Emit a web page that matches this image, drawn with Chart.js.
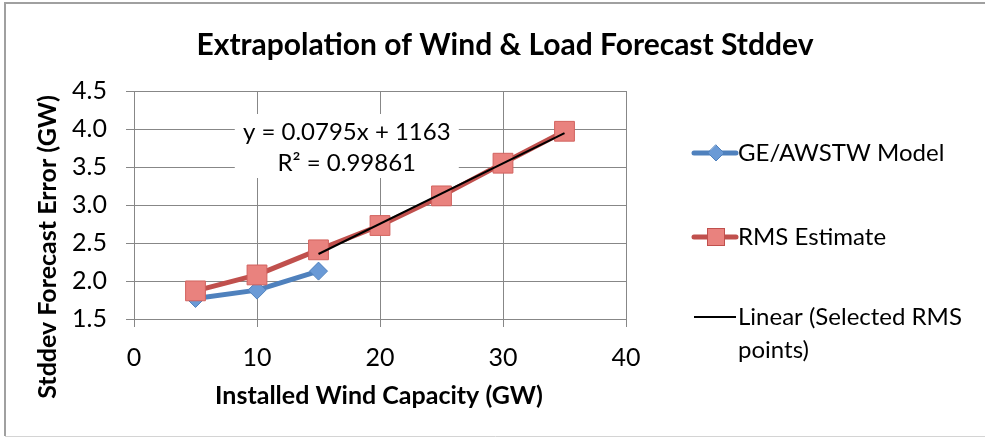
<!DOCTYPE html>
<html>
<head>
<meta charset="utf-8">
<title>Extrapolation of Wind &amp; Load Forecast Stddev</title>
<script src="https://cdn.jsdelivr.net/npm/chart.js@4.4.1/dist/chart.umd.min.js"></script>
<style>
  html, body { margin: 0; padding: 0; background: #ffffff; }
  #wrap { position: relative; width: 985px; height: 437px; }
</style>
</head>
<body>
<div id="wrap"><canvas id="chart" width="985" height="437"></canvas></div>
<script>
// Installed wind capacity (GW) and forecast error standard deviation (GW)
const capacityGW  = [5, 10, 15, 20, 25, 30, 35];
const geModel     = [1.77, 1.88, 2.13];              // GE/AWSTW study, first three capacities
const rmsEstimate = [1.87, 2.08, 2.41, 2.73, 3.12, 3.55, 3.97];

// Linear trendline fitted to the selected RMS points (equation in MW)
const trendSlope     = 0.0795;
const trendIntercept = 1163;
const trendR2        = 0.99861;
const trendFrom      = 15;
const trendTo        = 35;

const xTickValues = [0, 10, 20, 30, 40];
const yTickValues = [1.5, 2.0, 2.5, 3.0, 3.5, 4.0, 4.5];
const yTickLabels = ['1.5', '2.0', '2.5', '3.0', '3.5', '4.0', '4.5'];

const titleText  = 'Extrapolation of Wind & Load Forecast Stddev';
const xTitleText = 'Installed Wind Capacity (GW)';
const yTitleText = 'Stddev Forecast Error (GW)';
const seriesNames = ['GE/AWSTW Model', 'RMS Estimate', ['Linear (Selected RMS', 'points)']];

const FONT = "Lato, 'Open Sans', 'DejaVu Sans', sans-serif";
const BLUE = '#4F81BD';
const RED = '#C0504D';
const RED_FILL = '#E9827E';
const BLUE_FILL = '#6A9AD6';
const GRID = '#878787';

const trendY = x => (trendSlope * x * 1000 + trendIntercept) / 1000;

const toPoints = (xs, ys) => ys.map((y, i) => ({ x: xs[i], y }));

const decor = {
  id: 'decor',
  beforeDraw(chart) {
    const { ctx } = chart;
    ctx.save();
    ctx.fillStyle = '#ffffff';
    ctx.fillRect(0, 0, chart.width, chart.height);
    // outer frame
    ctx.strokeStyle = '#a0a0a0';
    ctx.lineWidth = 2;
    ctx.beginPath();
    ctx.moveTo(995, 3);
    ctx.lineTo(5, 3);
    ctx.lineTo(5, 436);
    ctx.stroke();
    ctx.strokeStyle = '#d4d4d4';
    ctx.lineWidth = 1;
    ctx.beginPath();
    ctx.moveTo(5, 436.5);
    ctx.lineTo(995, 436.5);
    ctx.stroke();
    ctx.restore();
  },
  afterDraw(chart) {
    const { ctx, chartArea: a, scales } = chart;
    ctx.save();
    ctx.fillStyle = '#000000';
    ctx.textAlign = 'center';
    ctx.textBaseline = 'middle';

    // chart title
    ctx.font = `bold 30px ${FONT}`;
    ctx.fillText(titleText, 505, 45);

    // axis titles
    ctx.font = `bold 25px ${FONT}`;
    ctx.fillText(xTitleText, (a.left + a.right) / 2 - 1, 396);
    ctx.save();
    ctx.translate(48, 247);
    ctx.rotate(-Math.PI / 2);
    ctx.fillText(yTitleText, 0, 0);
    ctx.restore();

    // trendline equation label on a white box
    const ex = scales.x.getPixelForValue(17.3);
    const ey = scales.y.getPixelForValue(3.75);
    ctx.fillStyle = '#ffffff';
    ctx.fillRect(ex - 112, ey - 34, 224, 64);
    ctx.fillStyle = '#000000';
    ctx.font = `24px ${FONT}`;
    ctx.fillText(`y = ${trendSlope}x + ${trendIntercept}`, ex, ey - 16);
    ctx.fillText(`R² = ${trendR2}`, ex, ey + 15);

    // legend
    const lx0 = 694, lx1 = 736, tx = 738;
    ctx.textAlign = 'left';
    ctx.font = `24px ${FONT}`;
    ctx.lineCap = 'round';

    let y = 153;
    ctx.strokeStyle = BLUE; ctx.lineWidth = 5;
    ctx.beginPath(); ctx.moveTo(lx0, y); ctx.lineTo(lx1, y); ctx.stroke();
    ctx.fillStyle = BLUE_FILL; ctx.strokeStyle = BLUE; ctx.lineWidth = 1;
    ctx.beginPath();
    ctx.moveTo(716, y - 8); ctx.lineTo(724, y); ctx.lineTo(716, y + 8); ctx.lineTo(708, y);
    ctx.closePath(); ctx.fill(); ctx.stroke();
    ctx.fillStyle = '#000000';
    ctx.fillText(seriesNames[0], tx, y);

    y = 237;
    ctx.strokeStyle = RED; ctx.lineWidth = 5;
    ctx.beginPath(); ctx.moveTo(lx0, y); ctx.lineTo(lx1, y); ctx.stroke();
    ctx.fillStyle = RED_FILL; ctx.strokeStyle = RED; ctx.lineWidth = 1;
    ctx.fillRect(707.5, y - 8.5, 17, 17);
    ctx.strokeRect(707.5, y - 8.5, 17, 17);
    ctx.fillStyle = '#000000';
    ctx.fillText(seriesNames[1], tx, y);

    y = 317;
    ctx.strokeStyle = '#000000'; ctx.lineWidth = 2; ctx.lineCap = 'butt';
    ctx.beginPath(); ctx.moveTo(lx0, y); ctx.lineTo(lx1, y); ctx.stroke();
    ctx.fillText(seriesNames[2][0], tx, y);
    ctx.fillText(seriesNames[2][1], tx, y + 33);

    ctx.restore();
  }
};

const axisFit = (size, prop) => scale => {
  scale[prop] = size;
  scale.paddingLeft = 0; scale.paddingRight = 0;
  scale.paddingTop = 0; scale.paddingBottom = 0;
};

new Chart(document.getElementById('chart'), {
  type: 'scatter',
  data: {
    datasets: [
      {
        label: seriesNames[2].join(' '),
        data: [{ x: trendFrom, y: trendY(trendFrom) }, { x: trendTo, y: trendY(trendTo) }],
        showLine: true,
        borderColor: '#000000',
        borderWidth: 2,
        pointRadius: 0,
        fill: false
      },
      {
        label: seriesNames[1],
        data: toPoints(capacityGW, rmsEstimate),
        showLine: true,
        borderColor: RED,
        borderWidth: 5,
        borderJoinStyle: 'round',
        borderCapStyle: 'round',
        pointStyle: 'rect',
        pointRadius: 14,
        pointBackgroundColor: RED_FILL,
        pointBorderColor: '#D2625E',
        pointBorderWidth: 1,
        fill: false
      },
      {
        label: seriesNames[0],
        data: toPoints(capacityGW, geModel),
        showLine: true,
        borderColor: BLUE,
        borderWidth: 5,
        borderJoinStyle: 'round',
        borderCapStyle: 'round',
        pointStyle: 'rectRot',
        pointRadius: 9,
        pointBackgroundColor: BLUE_FILL,
        pointBorderColor: BLUE,
        pointBorderWidth: 1,
        fill: false
      }
    ]
  },
  options: {
    responsive: false,
    animation: false,
    devicePixelRatio: 1,
    layout: { padding: { left: 20, top: 91, right: 359, bottom: 10 } },
    plugins: {
      legend: { display: false },
      title: { display: false },
      tooltip: { enabled: false }
    },
    scales: {
      x: {
        type: 'linear',
        min: 0, max: 40,
        afterBuildTicks: s => { s.ticks = xTickValues.map(v => ({ value: v })); },
        afterFit: axisFit(108, 'height'),
        grid: { color: GRID, tickColor: GRID, tickLength: 8, lineWidth: 1 },
        border: { color: GRID, width: 1 },
        ticks: { font: { family: FONT, size: 25 }, color: '#000000', padding: 16, maxRotation: 0 }
      },
      y: {
        type: 'linear',
        min: 1.5, max: 4.5,
        afterBuildTicks: s => { s.ticks = yTickValues.map(v => ({ value: v })); },
        afterFit: axisFit(114, 'width'),
        grid: { color: GRID, tickColor: GRID, tickLength: 8, lineWidth: 1 },
        border: { color: GRID, width: 1 },
        ticks: {
          font: { family: FONT, size: 25 }, color: '#000000', padding: 19,
          callback: v => yTickLabels[yTickValues.indexOf(v)] ?? ''
        }
      }
    }
  },
  plugins: [decor]
});
</script>
</body>
</html>
